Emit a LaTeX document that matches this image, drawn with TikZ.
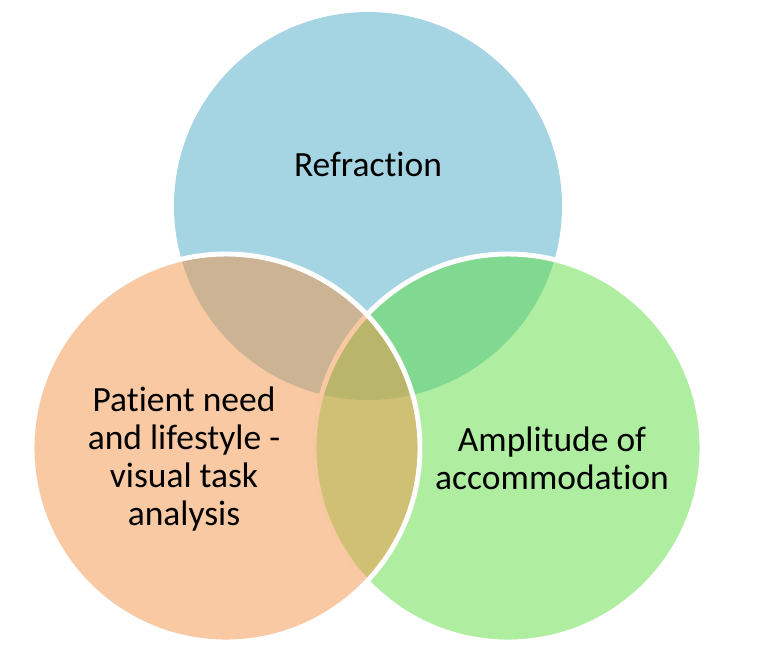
\documentclass[tikz,border=0pt]{standalone}
\usepackage{fontspec}
\setmainfont{Carlito}[Ligatures=NoCommon]
\usetikzlibrary{positioning}
\definecolor{refrblue}{RGB}{165,213,226}
\definecolor{needorange}{RGB}{241,147,71}
\definecolor{accgreen}{RGB}{95,221,65}
\tikzset{every picture/.style={font issue=\fontsize{20.2}{21.7}},
         font issue/.style={execute at begin picture={#1\selectfont}},
         venn/.style={draw=white, line width=2.8pt},
         venn label/.style={align=center, text=black, inner sep=0pt}
        }

\begin{document}
\begin{tikzpicture}[x=0.02cm, y=-0.02cm]
        \useasboundingbox (0,0) rectangle (768,654);
        \fill [refrblue] (368,206) circle (194);
        \draw [venn, fill=accgreen, fill opacity=0.5] (508,448) circle (194);
        \draw [venn, fill=needorange, fill opacity=0.5] (226,448) circle (194);
        \node [venn label] (refraction) at (368,164) {Refraction};
        \node [venn label] (need) at (184,459) {Patient need\\and lifestyle -\\visual task\\analysis};
        \node [venn label] (amplitude) at (552,458) {Amplitude of\\accommodation};
      \end{tikzpicture}
\end{document}
